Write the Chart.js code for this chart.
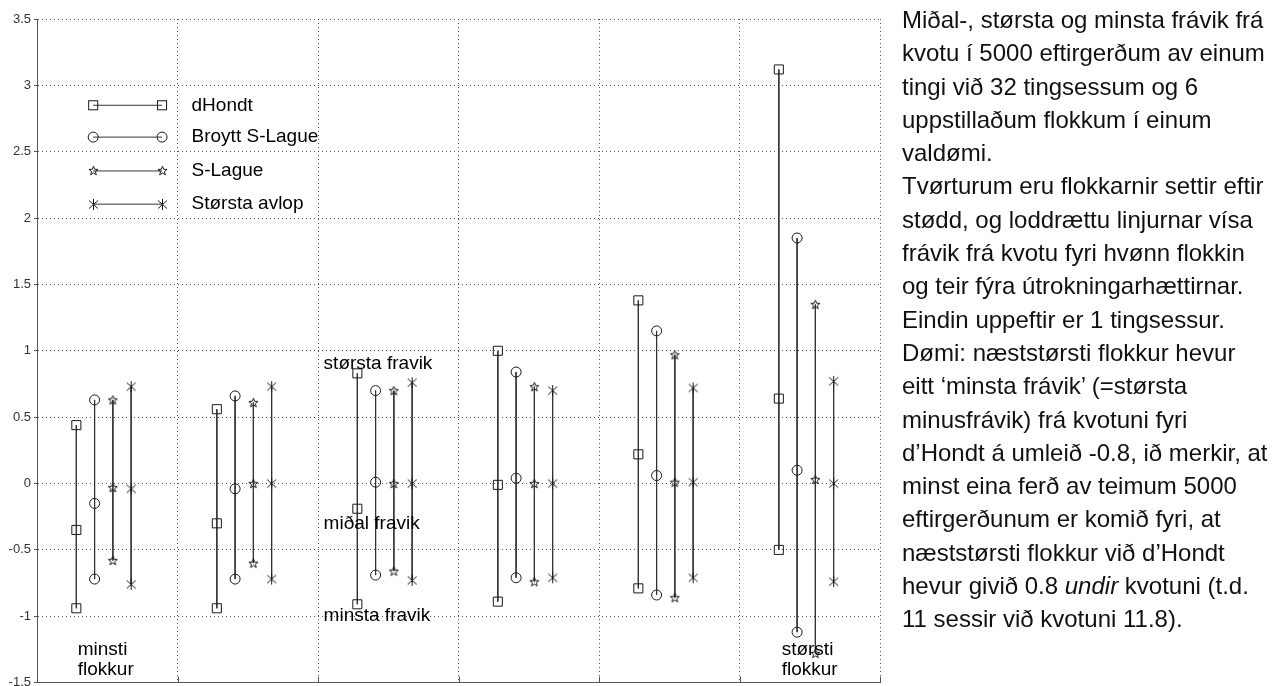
<!DOCTYPE html>
<html>
<head>
<meta charset="utf-8">
<title>Frávik frá kvotu</title>
<script src="https://cdn.jsdelivr.net/npm/chart.js@4.4.1/dist/chart.umd.min.js"></script>
<style>
  html, body { margin: 0; padding: 0; background: #fff; }
  #wrap { position: relative; width: 1273px; height: 686px; overflow: hidden; }
  #chart { position: absolute; left: 0; top: 0; }
  #note {
    position: absolute; left: 902px; top: 3px; width: 371px;
    font-family: "Liberation Sans", Arial, sans-serif;
    font-size: 24px; line-height: 33.3px; color: #111; white-space: nowrap;
  }
</style>
</head>
<body>
<div id="wrap">
  <canvas id="chart" width="1273" height="690"></canvas>
  <div id="note">
    Miðal-, størsta og minsta frávik frá<br>
    kvotu í 5000 eftirgerðum av einum<br>
    tingi við 32 tingsessum og 6<br>
    uppstillaðum flokkum í einum<br>
    valdømi.<br>
    Tvørturum eru flokkarnir settir eftir<br>
    stødd, og loddrættu linjurnar vísa<br>
    frávik frá kvotu fyri hvønn flokkin<br>
    og teir fýra útrokningarhættirnar.<br>
    Eindin uppeftir er 1 tingsessur.<br>
    Dømi: næststørsti flokkur hevur<br>
    eitt ‘minsta frávik’ (=størsta<br>
    minusfrávik) frá kvotuni fyri<br>
    d’Hondt á umleið -0.8, ið merkir, at<br>
    minst eina ferð av teimum 5000<br>
    eftirgerðunum er komið fyri, at<br>
    næststørsti flokkur við d’Hondt<br>
    hevur givið 0.8 <i>undir</i> kvotuni (t.d.<br>
    11 sessir við kvotuni 11.8).
  </div>
</div>
<script>
// flokkar 1..6, frá minsta til største
const parties = ['1', '2', '3', '4', '5', '6'];
const methods = ['dHondt', 'Broytt S-Lague', 'S-Lague', 'Størsta avlop'];

// størsta, miðal og minsta frávik fyri hvønn hátt
const dHondtMax = [0.44, 0.56, 0.83, 1.00, 1.38, 3.12];
const dHondtMid = [-0.35, -0.30, -0.19, -0.01, 0.22, 0.64];
const dHondtMin = [-0.94, -0.94, -0.91, -0.89, -0.79, -0.50];

const broyttMax = [0.63, 0.66, 0.70, 0.84, 1.15, 1.85];
const broyttMid = [-0.15, -0.04, 0.01, 0.04, 0.06, 0.10];
const broyttMin = [-0.72, -0.72, -0.69, -0.71, -0.84, -1.12];

const slagueMax = [0.63, 0.61, 0.70, 0.73, 0.97, 1.35];
const slagueMid = [-0.03, 0.00, 0.00, 0.00, 0.01, 0.03];
const slagueMin = [-0.58, -0.60, -0.66, -0.74, -0.86, -1.28];

const avlopMax = [0.73, 0.73, 0.76, 0.70, 0.72, 0.77];
const avlopMid = [-0.04, 0.00, 0.00, 0.00, 0.01, 0.00];
const avlopMin = [-0.76, -0.72, -0.73, -0.71, -0.71, -0.74];

const yTicks = [-1.5, -1, -0.5, 0, 0.5, 1, 1.5, 2, 2.5, 3, 3.5];

const notes = [
  { text: ['størsta fravik'], x: 2.04, y: 0.90 },
  { text: ['miðal fravik'], x: 2.04, y: -0.30 },
  { text: ['minsta fravik'], x: 2.04, y: -1.00 },
  { text: ['minsti', 'flokkur'], x: 0.29, y: -1.25 },
  { text: ['størsti', 'flokkur'], x: 5.30, y: -1.25 }
];

const INK = '#1a1a1a';
const FONT = '"Liberation Sans", Arial, sans-serif';

// markørar
function makeCanvas(size, draw) {
  const c = document.createElement('canvas');
  c.width = size;
  c.height = size;
  const g = c.getContext('2d');
  g.strokeStyle = INK;
  g.lineWidth = 1;
  draw(g, size / 2);
  return c;
}

const starMark = makeCanvas(11, (g, m) => {
  g.beginPath();
  for (let i = 0; i < 10; i++) {
    const r = i % 2 === 0 ? 4.8 : 2.0;
    const a = -Math.PI / 2 + i * Math.PI / 5;
    const px = m + r * Math.cos(a), py = m + 0.4 + r * Math.sin(a);
    if (i === 0) g.moveTo(px, py); else g.lineTo(px, py);
  }
  g.closePath();
  g.stroke();
});

const asteriskMark = makeCanvas(13, (g, m) => {
  g.beginPath();
  g.moveTo(m, m - 5.5); g.lineTo(m, m + 5.5);
  g.moveTo(m - 4.5, m - 4); g.lineTo(m + 4.5, m + 4);
  g.moveTo(m - 4.5, m + 4); g.lineTo(m + 4.5, m - 4);
  g.stroke();
});

const styles = [
  { point: 'rect', radius: 6.4 },
  { point: 'circle', radius: 5 },
  { point: starMark, radius: 5 },
  { point: asteriskMark, radius: 6 }
];
const offsets = [0.28, 0.41, 0.54, 0.67];

function buildSeries(maxs, mids, mins, k) {
  const pts = [];
  for (let i = 0; i < parties.length; i++) {
    const x = i + offsets[k];
    pts.push({ x: x, y: maxs[i] }, { x: x, y: mids[i] }, { x: x, y: mins[i] });
    if (i < parties.length - 1) pts.push({ x: x + 0.5, y: null });
  }
  return pts;
}

const series = [
  buildSeries(dHondtMax, dHondtMid, dHondtMin, 0),
  buildSeries(broyttMax, broyttMid, broyttMin, 1),
  buildSeries(slagueMax, slagueMid, slagueMin, 2),
  buildSeries(avlopMax, avlopMid, avlopMin, 3)
];

const datasets = methods.map((name, k) => ({
  label: name,
  data: series[k],
  showLine: true,
  spanGaps: false,
  borderColor: '#333',
  borderWidth: 1,
  pointStyle: styles[k].point,
  pointRadius: styles[k].radius,
  pointHoverRadius: styles[k].radius,
  pointBorderColor: INK,
  pointBorderWidth: 1,
  pointBackgroundColor: 'rgba(0,0,0,0)'
}));

function drawMarker(ctx, k, x, y) {
  const st = styles[k].point;
  ctx.save();
  ctx.strokeStyle = INK;
  ctx.lineWidth = 1;
  if (st === 'rect') {
    const h = styles[k].radius * Math.SQRT1_2;
    ctx.strokeRect(x - h, y - h, 2 * h, 2 * h);
  } else if (st === 'circle') {
    ctx.beginPath();
    ctx.arc(x, y, styles[k].radius, 0, Math.PI * 2);
    ctx.stroke();
  } else {
    ctx.drawImage(st, Math.round(x - st.width / 2), Math.round(y - st.height / 2));
  }
  ctx.restore();
}

// forklaring, tekstir og innvendis strikur
const overlay = {
  id: 'overlay',
  afterDatasetsDraw(chart) {
    const ctx = chart.ctx;
    const xs = chart.scales.x, ys = chart.scales.y;
    const area = chart.chartArea;
    const legendY = [2.85, 2.61, 2.355, 2.105];
    ctx.save();

    ctx.strokeStyle = '#555';
    ctx.lineWidth = 1;
    xs.ticks.forEach(t => {
      const px = Math.round(xs.getPixelForValue(t.value)) + 0.5;
      ctx.beginPath();
      ctx.moveTo(px, area.bottom);
      ctx.lineTo(px, area.bottom - 6);
      ctx.stroke();
    });

    ctx.font = '19px ' + FONT;
    ctx.fillStyle = '#000';
    ctx.textBaseline = 'middle';
    ctx.textAlign = 'left';
    methods.forEach((name, k) => {
      const y = ys.getPixelForValue(legendY[k]);
      const x0 = xs.getPixelForValue(0.40), x1 = xs.getPixelForValue(0.89);
      ctx.strokeStyle = '#333';
      ctx.beginPath();
      ctx.moveTo(x0, y);
      ctx.lineTo(x1, y);
      ctx.stroke();
      drawMarker(ctx, k, x0, y);
      drawMarker(ctx, k, x1, y);
      ctx.fillText(name, xs.getPixelForValue(1.10), y);
    });
    notes.forEach(n => {
      n.text.forEach((line, i) => {
        ctx.fillText(line, xs.getPixelForValue(n.x), ys.getPixelForValue(n.y) + i * 20);
      });
    });
    ctx.restore();
  }
};

function noPad(s) {
  s.paddingTop = 0;
  s.paddingBottom = 0;
  s.paddingLeft = 0;
  s.paddingRight = 0;
}

new Chart(document.getElementById('chart'), {
  type: 'scatter',
  data: { datasets: datasets },
  options: {
    responsive: false,
    animation: false,
    layout: { padding: { top: 19, right: 393, bottom: 0, left: 0 } },
    plugins: { legend: { display: false }, tooltip: { enabled: false } },
    scales: {
      x: {
        type: 'linear',
        min: 0,
        max: parties.length,
        afterBuildTicks: s => { s.ticks = parties.map((p, i) => ({ value: i })).concat([{ value: parties.length }]); },
        ticks: { display: false, padding: 0 },
        grid: { color: '#555', lineWidth: 1, drawTicks: false, tickLength: 0 },
        border: { color: '#555', width: 1, dash: [1, 3] },
        afterFit: s => { s.height = 0; noPad(s); }
      },
      y: {
        min: -1.5,
        max: 3.5,
        afterBuildTicks: s => { s.ticks = yTicks.map(v => ({ value: v })); },
        ticks: { color: '#333', font: { family: FONT, size: 13 }, padding: 3, callback: v => String(v) },
        grid: { color: '#555', lineWidth: 1, drawTicks: true, tickLength: 3, tickColor: '#555', tickBorderDash: [] },
        border: { color: '#555', width: 1, dash: [1, 3] },
        afterFit: s => { s.width = 37; noPad(s); }
      }
    }
  },
  plugins: [overlay]
});
</script>
</body>
</html>
